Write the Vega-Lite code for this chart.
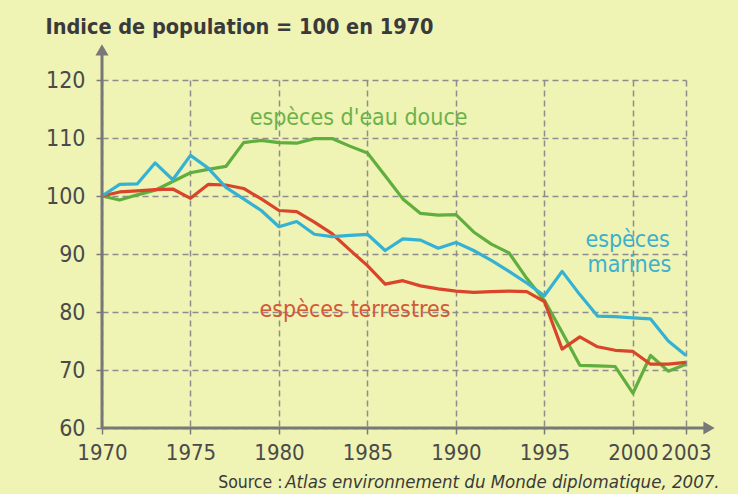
{
  "$schema": "https://vega.github.io/schema/vega-lite/v6.json",
  "width": 584,
  "height": 348,
  "autosize": {"type": "none"},
  "padding": {"left": 102, "top": 80, "right": 52, "bottom": 66},
  "background": "#eff3b3",
  "config": {
    "view": {"stroke": null},
    "font": "Liberation Sans Narrow, DejaVu Sans Condensed, Liberation Sans, sans-serif"
  },
  "layer": [
    {
      "data": {
        "values": [
          {"year": 1970, "series": "eau douce", "value": 100},
          {"year": 1971, "series": "eau douce", "value": 99.3},
          {"year": 1972, "series": "eau douce", "value": 100.2},
          {"year": 1973, "series": "eau douce", "value": 101},
          {"year": 1974, "series": "eau douce", "value": 102.5},
          {"year": 1975, "series": "eau douce", "value": 104},
          {"year": 1976, "series": "eau douce", "value": 104.6},
          {"year": 1977, "series": "eau douce", "value": 105.1},
          {"year": 1978, "series": "eau douce", "value": 109.2},
          {"year": 1979, "series": "eau douce", "value": 109.6},
          {"year": 1980, "series": "eau douce", "value": 109.2},
          {"year": 1981, "series": "eau douce", "value": 109.1},
          {"year": 1982, "series": "eau douce", "value": 109.9},
          {"year": 1983, "series": "eau douce", "value": 109.9},
          {"year": 1984, "series": "eau douce", "value": 108.6},
          {"year": 1985, "series": "eau douce", "value": 107.4},
          {"year": 1986, "series": "eau douce", "value": 103.5},
          {"year": 1987, "series": "eau douce", "value": 99.5},
          {"year": 1988, "series": "eau douce", "value": 97},
          {"year": 1989, "series": "eau douce", "value": 96.7},
          {"year": 1990, "series": "eau douce", "value": 96.8},
          {"year": 1991, "series": "eau douce", "value": 93.8},
          {"year": 1992, "series": "eau douce", "value": 91.7},
          {"year": 1993, "series": "eau douce", "value": 90.2},
          {"year": 1994, "series": "eau douce", "value": 85.8},
          {"year": 1995, "series": "eau douce", "value": 82},
          {"year": 1996, "series": "eau douce", "value": 76.5},
          {"year": 1997, "series": "eau douce", "value": 70.8},
          {"year": 1998, "series": "eau douce", "value": 70.7},
          {"year": 1999, "series": "eau douce", "value": 70.6},
          {"year": 2000, "series": "eau douce", "value": 66},
          {"year": 2001, "series": "eau douce", "value": 72.5},
          {"year": 2002, "series": "eau douce", "value": 69.8},
          {"year": 2003, "series": "eau douce", "value": 71},
          {"year": 1970, "series": "terrestres", "value": 100},
          {"year": 1971, "series": "terrestres", "value": 100.7},
          {"year": 1972, "series": "terrestres", "value": 100.9},
          {"year": 1973, "series": "terrestres", "value": 101.1},
          {"year": 1974, "series": "terrestres", "value": 101.2},
          {"year": 1975, "series": "terrestres", "value": 99.6},
          {"year": 1976, "series": "terrestres", "value": 102},
          {"year": 1977, "series": "terrestres", "value": 101.9},
          {"year": 1978, "series": "terrestres", "value": 101.3},
          {"year": 1979, "series": "terrestres", "value": 99.5},
          {"year": 1980, "series": "terrestres", "value": 97.5},
          {"year": 1981, "series": "terrestres", "value": 97.3},
          {"year": 1982, "series": "terrestres", "value": 95.5},
          {"year": 1983, "series": "terrestres", "value": 93.5},
          {"year": 1984, "series": "terrestres", "value": 90.7},
          {"year": 1985, "series": "terrestres", "value": 88},
          {"year": 1986, "series": "terrestres", "value": 84.8},
          {"year": 1987, "series": "terrestres", "value": 85.4},
          {"year": 1988, "series": "terrestres", "value": 84.5},
          {"year": 1989, "series": "terrestres", "value": 84},
          {"year": 1990, "series": "terrestres", "value": 83.6},
          {"year": 1991, "series": "terrestres", "value": 83.4},
          {"year": 1992, "series": "terrestres", "value": 83.5},
          {"year": 1993, "series": "terrestres", "value": 83.6},
          {"year": 1994, "series": "terrestres", "value": 83.5},
          {"year": 1995, "series": "terrestres", "value": 81.8},
          {"year": 1996, "series": "terrestres", "value": 73.6},
          {"year": 1997, "series": "terrestres", "value": 75.7},
          {"year": 1998, "series": "terrestres", "value": 74},
          {"year": 1999, "series": "terrestres", "value": 73.4},
          {"year": 2000, "series": "terrestres", "value": 73.2},
          {"year": 2001, "series": "terrestres", "value": 71},
          {"year": 2002, "series": "terrestres", "value": 71},
          {"year": 2003, "series": "terrestres", "value": 71.3},
          {"year": 1970, "series": "marines", "value": 100},
          {"year": 1971, "series": "marines", "value": 102},
          {"year": 1972, "series": "marines", "value": 102.1},
          {"year": 1973, "series": "marines", "value": 105.7},
          {"year": 1974, "series": "marines", "value": 102.8},
          {"year": 1975, "series": "marines", "value": 107},
          {"year": 1976, "series": "marines", "value": 104.8},
          {"year": 1977, "series": "marines", "value": 101.5},
          {"year": 1978, "series": "marines", "value": 99.5},
          {"year": 1979, "series": "marines", "value": 97.5},
          {"year": 1980, "series": "marines", "value": 94.7},
          {"year": 1981, "series": "marines", "value": 95.6},
          {"year": 1982, "series": "marines", "value": 93.4},
          {"year": 1983, "series": "marines", "value": 93},
          {"year": 1984, "series": "marines", "value": 93.2},
          {"year": 1985, "series": "marines", "value": 93.4},
          {"year": 1986, "series": "marines", "value": 90.6},
          {"year": 1987, "series": "marines", "value": 92.6},
          {"year": 1988, "series": "marines", "value": 92.4},
          {"year": 1989, "series": "marines", "value": 91},
          {"year": 1990, "series": "marines", "value": 92},
          {"year": 1991, "series": "marines", "value": 90.6},
          {"year": 1992, "series": "marines", "value": 88.9},
          {"year": 1993, "series": "marines", "value": 87},
          {"year": 1994, "series": "marines", "value": 85},
          {"year": 1995, "series": "marines", "value": 82.8},
          {"year": 1996, "series": "marines", "value": 87},
          {"year": 1997, "series": "marines", "value": 83},
          {"year": 1998, "series": "marines", "value": 79.3},
          {"year": 1999, "series": "marines", "value": 79.2},
          {"year": 2000, "series": "marines", "value": 79},
          {"year": 2001, "series": "marines", "value": 78.8},
          {"year": 2002, "series": "marines", "value": 75},
          {"year": 2003, "series": "marines", "value": 72.5}
        ]
      },
      "mark": {"type": "line", "strokeWidth": 3.2, "strokeJoin": "round"},
      "encoding": {
        "x": {
          "field": "year",
          "type": "quantitative",
          "scale": {"domain": [1970, 2003], "nice": false, "zero": false},
          "axis": {
            "values": [1970, 1975, 1980, 1985, 1990, 1995, 2000, 2003],
            "format": "d",
            "title": null,
            "domain": false,
            "grid": true,
            "gridDash": [6, 4],
            "gridColor": "#8d8d8d",
            "gridWidth": 1.5,
            "tickColor": "#7a7a7a",
            "tickSize": 6,
            "tickWidth": 1.5,
            "labelFontSize": 22,
            "labelColor": "#4a4a4a",
            "labelPadding": 8,
            "labelOverlap": false,
            "labelFlush": false
          }
        },
        "y": {
          "field": "value",
          "type": "quantitative",
          "scale": {"domain": [60, 120], "nice": false, "zero": false},
          "axis": {
            "values": [60, 70, 80, 90, 100, 110, 120],
            "title": "Indice de population = 100 en 1970",
            "titleAngle": 0,
            "titleAlign": "left",
            "titleBaseline": "alphabetic",
            "titleX": -57,
            "titleY": -47,
            "titleFontSize": 21.5,
            "titleFontWeight": "bold",
            "titleColor": "#3a3a3a",
            "domain": false,
            "grid": true,
            "gridDash": [6, 4],
            "gridColor": "#8d8d8d",
            "gridWidth": 1.5,
            "tickColor": "#7a7a7a",
            "tickSize": 6,
            "tickWidth": 1.5,
            "labelFontSize": 23,
            "labelColor": "#4a4a4a",
            "labelPadding": 11
          }
        },
        "color": {
          "field": "series",
          "type": "nominal",
          "scale": {"domain": ["eau douce", "terrestres", "marines"], "range": ["#5fae3e", "#d8452b", "#35b2d3"]},
          "legend": null
        }
      }
    },
    {
      "data": {"values": [{}]},
      "mark": {"type": "rule", "color": "#787878", "strokeWidth": 3},
      "encoding": {
        "x": {"datum": 1970},
        "x2": {"datum": 2004.2},
        "y": {"datum": 60},
        "y2": {"datum": 60}
      }
    },
    {
      "data": {"values": [{}]},
      "mark": {"type": "rule", "color": "#787878", "strokeWidth": 3},
      "encoding": {
        "x": {"datum": 1970},
        "x2": {"datum": 1970},
        "y": {"datum": 60},
        "y2": {"datum": 124.8}
      }
    },
    {
      "data": {"values": [{}]},
      "mark": {"type": "point", "shape": "triangle-right", "filled": true, "color": "#787878", "size": 170, "opacity": 1},
      "encoding": {"x": {"datum": 2004.3}, "y": {"datum": 60}}
    },
    {
      "data": {"values": [{}]},
      "mark": {"type": "point", "shape": "triangle-up", "filled": true, "color": "#787878", "size": 170, "opacity": 1},
      "encoding": {"x": {"datum": 1970}, "y": {"datum": 125.2}}
    },
    {
      "data": {"values": [{}]},
      "mark": {"type": "text", "text": "espèces d'eau douce", "fontSize": 23, "color": "#6cb24a", "align": "center", "baseline": "alphabetic"},
      "encoding": {"x": {"datum": 1984.5}, "y": {"datum": 112.2}}
    },
    {
      "data": {"values": [{}]},
      "mark": {"type": "text", "text": "espèces terrestres", "fontSize": 23, "color": "#d4583a", "align": "center", "baseline": "middle"},
      "encoding": {"x": {"datum": 1984.3}, "y": {"datum": 80.4}}
    },
    {
      "data": {"values": [{}]},
      "mark": {"type": "text", "text": "espèces", "fontSize": 23, "color": "#3cb0cc", "align": "center", "baseline": "middle"},
      "encoding": {"x": {"datum": 1999.7}, "y": {"datum": 92.4}}
    },
    {
      "data": {"values": [{}]},
      "mark": {"type": "text", "text": "marines", "fontSize": 23, "color": "#3cb0cc", "align": "center", "baseline": "middle"},
      "encoding": {"x": {"datum": 1999.8}, "y": {"datum": 88.1}}
    },
    {
      "data": {"values": [{}]},
      "mark": {"type": "text", "text": "Source :", "fontSize": 17.5, "color": "#3a3a3a", "align": "right", "baseline": "alphabetic"},
      "encoding": {"x": {"datum": 1980.2}, "y": {"datum": 49.7}}
    },
    {
      "data": {"values": [{}]},
      "mark": {"type": "text", "text": "Atlas environnement du Monde diplomatique, 2007.", "fontSize": 18.5, "fontStyle": "italic", "color": "#3a3a3a", "align": "right", "baseline": "alphabetic"},
      "encoding": {"x": {"datum": 2004.9}, "y": {"datum": 49.7}}
    }
  ]
}
